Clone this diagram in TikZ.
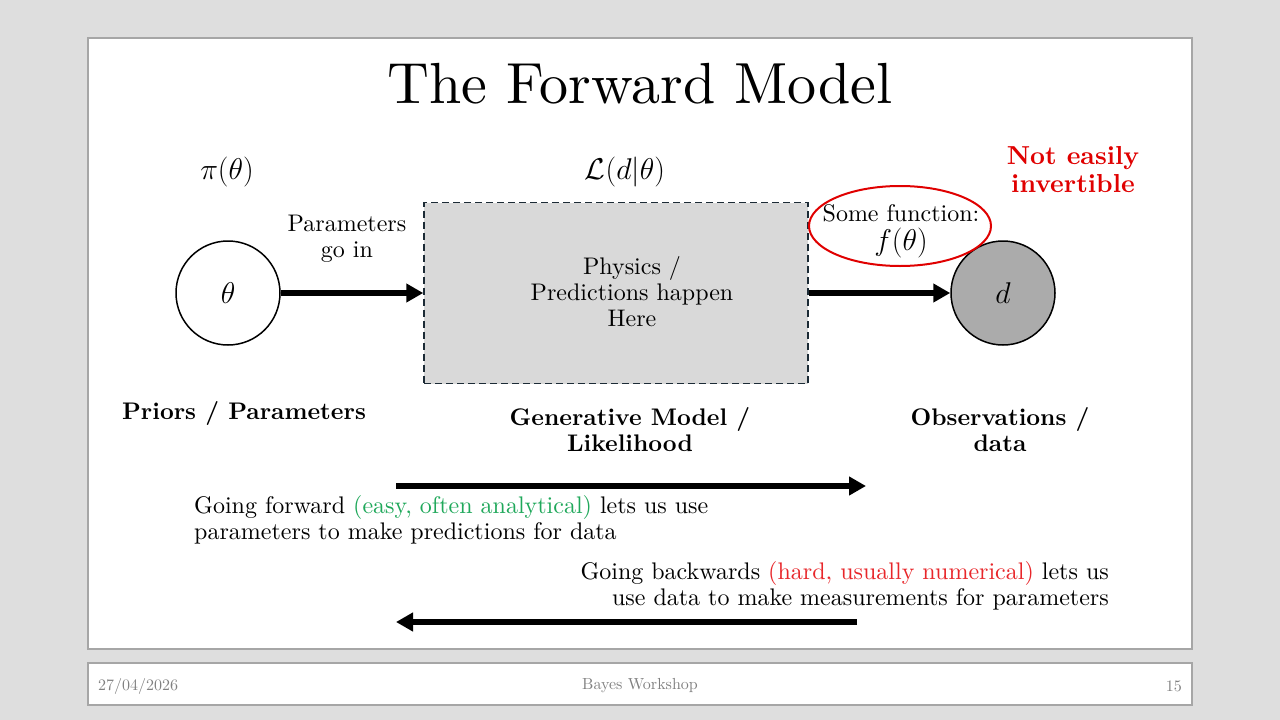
\RequirePackage{fix-cm}
\documentclass[tikz,border=0pt]{standalone}
\usepackage{fontspec}
\setmainfont{lmroman10-regular.otf}[BoldFont=lmroman10-bold.otf, ItalicFont=lmroman10-italic.otf, BoldItalicFont=lmroman10-bolditalic.otf]
\usetikzlibrary{arrows.meta,shapes.geometric}
\definecolor{bggray}{HTML}{DEDEDE}
\definecolor{framegray}{HTML}{A6A6A6}
\definecolor{boxfill}{HTML}{D9D9D9}
\definecolor{dfill}{HTML}{ABABAB}
\definecolor{myred}{HTML}{E00000}
\definecolor{txtred}{HTML}{E8262A}
\definecolor{mygreen}{HTML}{1FA85A}
\definecolor{dashcol}{HTML}{1C2B36}
\definecolor{footgray}{HTML}{808080}
\newcommand\mymath[1]{{\fontsize{30}{30}\selectfont$#1$}}
\begin{document}
\begin{tikzpicture}[x=1pt,y=-1pt,
  body/.style={font=\fontsize{24}{26}\selectfont, align=center, inner sep=0pt},
  boldtxt/.style={font=\fontsize{24}{26}\selectfont\bfseries, align=center, inner sep=0pt},
  varnode/.style={circle, draw=black, line width=1.5pt, minimum size=104pt, inner sep=0pt, font=\fontsize{24}{26}\selectfont},
  modelbox/.style={draw=dashcol, fill=boxfill, line width=1.5pt, dash pattern=on 7pt off 4pt, minimum width=384pt, minimum height=181pt, inner sep=0pt},
  bigarrow/.style={line width=6pt, -{Triangle[length=17pt,width=18pt]}},
  panel/.style={draw=framegray, line width=2pt, fill=white},
  foot/.style={font=\fontsize{16}{18}\selectfont, text=footgray, inner sep=0pt}
]
\useasboundingbox (0,0) rectangle (1280,720);
\fill[bggray] (0,0) rectangle (1280,720);
\draw[panel] (88,38) rectangle (1192,649);
\draw[panel] (88,663) rectangle (1192,705);

% title
\node[inner sep=0pt, font=\fontsize{58}{60}\selectfont] (title) at (640,84) {The Forward Model};

% top labels
\node[body] (prior) at (227,172) {\mymath{\pi(\theta)}};
\node[body] (like) at (625,172) {\mymath{\mathcal{L}(d|\theta)}};
\node[boldtxt, text=myred, font=\fontsize{26}{28}\selectfont\bfseries] (noteasy) at (1073,170) {Not easily\\invertible};

% nodes
\node[varnode] (theta) at (228,293) {\mymath{\theta}};
\node[modelbox] (model) at (616,293) {};
\node[body] (phys) at (632,292) {Physics /\\Predictions happen\\Here};
\node[varnode, fill=dfill] (data) at (1003,293) {\mymath{d}};
\node[ellipse, draw=myred, line width=2pt, minimum width=182pt, minimum height=80pt, inner sep=0pt] (fn) at (900,226) {};
\node[body] (fntext) at (901,231) {Some function:\\[3pt]\mymath{f(\theta)}};

\node[body] (goin) at (347,239) {Parameters\\go in};

% connectors
\draw[bigarrow] (theta.east) -- (model.west);
\draw[bigarrow] (model.east) -- (data.west);

% bottom labels
\node[boldtxt] (priors) at (244,413) {Priors / Parameters};
\node[boldtxt] (gen) at (630,430) {Generative Model /\\Likelihood};
\node[boldtxt] (obs) at (1000,430) {Observations /\\data};

% forward / backward
\coordinate (fa1) at (396,486);
\coordinate (fa2) at (866,486);
\coordinate (ba1) at (857,622);
\coordinate (ba2) at (396,622);
\draw[bigarrow] (fa1) -- (fa2);
\draw[bigarrow] (ba1) -- (ba2);
\node[body, align=left, anchor=west] (fwd) at (194,520) {Going forward \textcolor{mygreen}{(easy, often analytical)} lets us use\\parameters to make predictions for data};
\node[body, align=right, anchor=east] (bwd) at (1109,586) {Going backwards \textcolor{txtred}{(hard, usually numerical)} lets us\\use data to make measurements for parameters};

% footer
\node[foot, anchor=west] (date) at (98,686) {27/04/2026};
\node[foot] (event) at (640,686) {Bayes Workshop};
\node[foot, anchor=east] (page) at (1182,686) {15};
\end{tikzpicture}
\end{document}
